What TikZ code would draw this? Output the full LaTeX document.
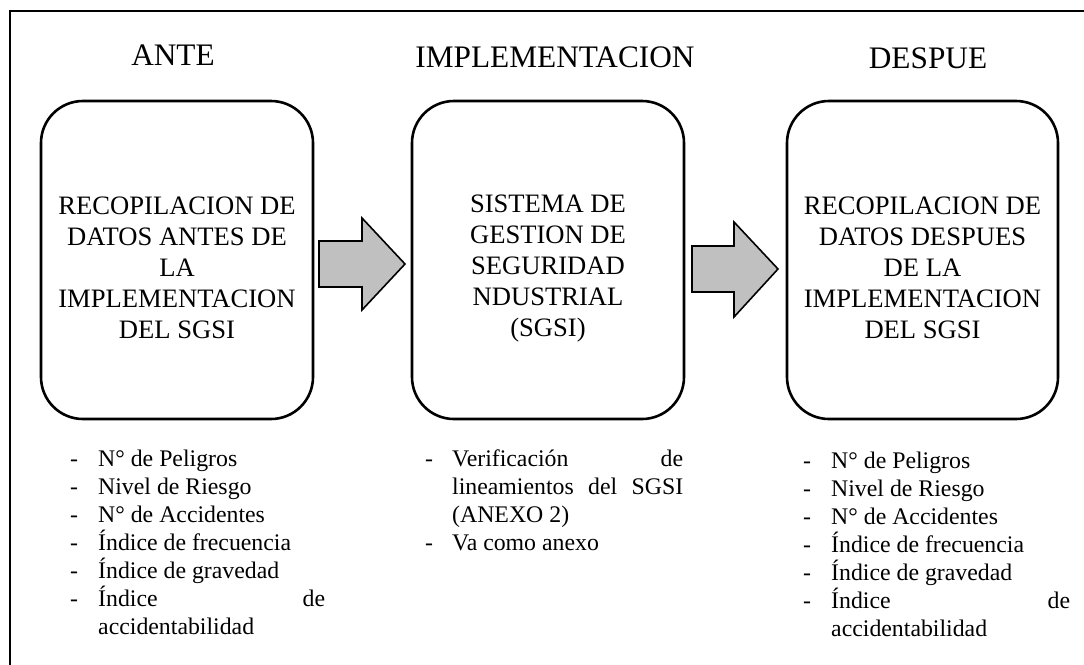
\documentclass[tikz,border=0pt]{standalone}
\usepackage{fontspec}
\setmainfont{Liberation Serif}
\usetikzlibrary{calc}
\definecolor{arrowgray}{HTML}{C0C0C0}
\newcommand\litem[2][28pt]{\par\noindent\hangindent=#1\hangafter=1\makebox[#1][l]{-}#2}
\begin{document}
\begin{tikzpicture}[x=1pt,y=-1pt,
  frame/.style={line width=2.4pt},
  phase/.style={draw, line width=2.6pt, rounded corners=42pt, minimum width=272pt, minimum height=318pt, inner sep=0pt},
  boxtext/.style={align=center, font=\fontsize{26.6}{31}\selectfont, inner sep=0pt},
  title/.style={font=\fontsize{31.3}{36}\selectfont, inner sep=0pt, anchor=base},
  blist/.style={anchor=north west, inner sep=0pt, align=justify, font=\fontsize{23.8}{28}\selectfont},
  bigarrow/.style={draw, line width=1.6pt, fill=arrowgray, line join=miter}
]
\useasboundingbox (0,0) rectangle (1084,664);
\begin{scope}
\clip (0,0) rectangle (1084,664);
\draw[frame] (10,11) rectangle (1110,700);
\end{scope}

\node[title] (h1) at (173,65) {ANTE};
\node[title] (h2) at (555,67) {IMPLEMENTACION};
\node[title] (h3) at (928,68) {DESPUE};

\node[phase] (b1) at (177,260) {};
\node[phase] (b2) at (548,260) {};
\node[phase, minimum width=271pt] (b3) at (922.5,260) {};

\node[boxtext] (t1) at ([yshift=-8pt]b1.center) {RECOPILACION DE\\DATOS ANTES DE\\LA\\IMPLEMENTACION\\DEL SGSI};
\node[boxtext] (t2) at ([yshift=-9pt]b2.center) {SISTEMA DE\\GESTION DE\\SEGURIDAD\\NDUSTRIAL\\(SGSI)};
\node[boxtext] (t3) at ([yshift=-8pt]b3.center) {RECOPILACION DE\\DATOS DESPUES\\DE LA\\IMPLEMENTACION\\DEL SGSI};

\draw[bigarrow] (319,241) -- (362,241) -- (362,218) -- (405,264) -- (362,310) -- (362,287) -- (319,287) -- cycle;
\draw[bigarrow] (692,246) -- (734,246) -- (734,222) -- (778,269) -- (734,317) -- (734,292) -- (692,292) -- cycle;

\node[blist, text width=255pt] (l1) at (70,438) {\tolerance=10000\hyphenpenalty=10000
\litem{\rule{0pt}{22pt}N° de Peligros}
\litem{Nivel de Riesgo}
\litem{N° de Accidentes}
\litem{Índice de frecuencia}
\litem{Índice de gravedad}
\litem{Índice de\linebreak accidentabilidad}\par};

\node[blist, text width=258pt] (l2) at (425,438) {\tolerance=10000\hyphenpenalty=10000
\litem[27pt]{\rule{0pt}{22pt}Verificación de\linebreak lineamientos del SGSI\linebreak (ANEXO 2)}
\litem[27pt]{Va como anexo}\par};

\node[blist, text width=267pt] (l3) at (803,440) {\tolerance=10000\hyphenpenalty=10000
\litem{\rule{0pt}{22pt}N° de Peligros}
\litem{Nivel de Riesgo}
\litem{N° de Accidentes}
\litem{Índice de frecuencia}
\litem{Índice de gravedad}
\litem{Índice de\linebreak accidentabilidad}\par};
\end{tikzpicture}
\end{document}
